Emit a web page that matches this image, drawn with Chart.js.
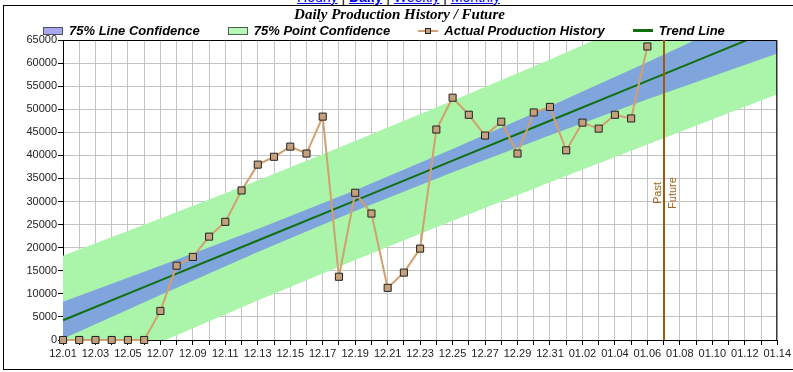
<!DOCTYPE html>
<html>
<head>
<meta charset="utf-8">
<title>Daily Production History / Future</title>
<script src="https://cdn.jsdelivr.net/npm/chart.js@4.4.1/dist/chart.umd.min.js"></script>
<style>
    html, body { margin: 0; padding: 0; background: #fff; }
    #wrap { position: relative; width: 793px; height: 372px; overflow: hidden; font-family: 'Liberation Sans', Arial, sans-serif; }
    #frame { position: absolute; left: 3px; top: 5px; width: 800px; height: 363px; border: 1px solid #000; border-right: none; }
    #links { position: absolute; top: -11px; left: 0; width: 797px; text-align: center; font-size: 14px; line-height: 16px; }
    #links a { color: #0000ee; text-decoration: underline; }
    #links b { font-weight: bold; }
    #chart { position: absolute; left: 0; top: 0; }
    #legend { position: absolute; left: 43px; top: 23px; height: 15px; display: flex; align-items: center; gap: 28px;
              font: italic bold 13px 'Liberation Sans', Arial, sans-serif; color: #000; white-space: nowrap; }
    .item { display: flex; align-items: center; gap: 6px; }
    .sw { position: relative; width: 20px; height: 8px; box-sizing: border-box; }
    .sw.box { border: 1px solid #505060; }
    .sw .ln { position: absolute; left: 0; right: 0; top: 50%; }
    .sw .mk { position: absolute; left: 7px; top: 1px; width: 6px; height: 6px; box-sizing: border-box; border: 1px solid #222; }
</style>
</head>
<body>
<div id="wrap">
    <div id="frame"></div>
    <div id="links"><a href="#">Hourly</a> | <a href="#"><b>Daily</b></a> | <a href="#">Weekly</a> | <a href="#">Monthly</a></div>
    <canvas id="chart" width="793" height="372"></canvas>
    <div id="legend"></div>
</div>
<script>
// ===== DATA =====
const DATES = ['12.01','12.02','12.03','12.04','12.05','12.06','12.07','12.08','12.09','12.10',
               '12.11','12.12','12.13','12.14','12.15','12.16','12.17','12.18','12.19','12.20',
               '12.21','12.22','12.23','12.24','12.25','12.26','12.27','12.28','12.29','12.30','12.31',
               '01.01','01.02','01.03','01.04','01.05','01.06','01.07','01.08','01.09','01.10',
               '01.11','01.12','01.13','01.14'];

// actual production, 12.01 .. 01.06
const ACTUAL = [0, 0, 0, 0, 0, 0, 6300, 16100, 18000, 22400,
                25600, 32400, 38000, 39700, 41900, 40400, 48400, 13700, 31900, 27400,
                11300, 14600, 19800, 45600, 52500, 48800, 44300, 47300, 40400, 49300, 50500,
                41100, 47100, 45800, 48800, 48000, 63600];

// trend line and confidence bands, read at a few dates
const BAND_DATES   = ['12.01', '12.07', '12.13', '12.19', '12.25', '12.31', '01.06', '01.14'];
const TREND        = [4270, 12920, 21560, 30210, 38850, 47500, 56150, 67670];
const LINE_CONF_HI = [8280, 16080, 24070, 32460, 41360, 50660, 60160, 73270];
const LINE_CONF_LO = [260, 9760, 19050, 27960, 36340, 44340, 52140, 62070];
const POINT_CONF_HI = [18270, 26320, 34560, 43110, 51850, 60800, 69950, 82070];
const POINT_CONF_LO = [-9730, -480, 8560, 17310, 25850, 34200, 42350, 53270];

const Y_MIN = 0, Y_MAX = 65000, Y_STEP = 5000;
const SPLIT_DATE = '01.07';
const NAMES = ['75% Line Confidence', '75% Point Confidence', 'Actual Production History', 'Trend Line'];

// ===== COLOURS =====
const C_LINE_CONF = '#80a4dc';
const C_POINT_CONF = '#aaf5aa';
const C_ACTUAL = '#d2a06e';
const C_MARKER = '#c4a07c';
const C_TREND = '#107010';
const C_SPLIT = '#9b5a0c';

const atBands = (vals) => BAND_DATES.map((d, i) => ({ x: d, y: vals[i] }));

// plot frame + past/future marker
const plotExtras = {
    id: 'plotExtras',
    afterDatasetsDraw(chart) {
        const { ctx, chartArea: a, scales: { x } } = chart;
        ctx.save();
        // top & right border
        ctx.strokeStyle = '#000';
        ctx.lineWidth = 1;
        ctx.beginPath();
        ctx.moveTo(a.left, a.top + 0.5);
        ctx.lineTo(a.right - 0.5, a.top + 0.5);
        ctx.lineTo(a.right - 0.5, a.bottom);
        ctx.stroke();

        // past / future divider
        const px = Math.round(x.getPixelForValue(DATES.indexOf(SPLIT_DATE)));
        ctx.strokeStyle = C_SPLIT;
        ctx.lineWidth = 2;
        ctx.beginPath();
        ctx.moveTo(px, a.top);
        ctx.lineTo(px, a.bottom);
        ctx.stroke();

        const cy = a.top + 153;
        ctx.translate(px, cy);
        ctx.rotate(-Math.PI / 2);
        ctx.fillStyle = '#a0641c';
        ctx.font = "11px 'Liberation Sans', Arial, sans-serif";
        ctx.textAlign = 'center';
        ctx.textBaseline = 'alphabetic';
        ctx.fillText('Past', 0, -3);
        ctx.fillText('Future', 0, 12);
        ctx.restore();
    }
};

function buildLegend() {
    const el = document.getElementById('legend');
    const swatches = [
        `<span class="sw box" style="background:#a8a8f0"></span>`,
        `<span class="sw box" style="background:#b6f8b6;border-color:#506050"></span>`,
        `<span class="sw"><span class="ln" style="height:2px;margin-top:-1px;background:${C_ACTUAL}"></span><span class="mk" style="background:${C_MARKER}"></span></span>`,
        `<span class="sw"><span class="ln" style="height:3px;margin-top:-1.5px;background:${C_TREND}"></span></span>`
    ];
    el.innerHTML = NAMES.map((n, i) => `<span class="item">${swatches[i]}<span>${n}</span></span>`).join('');
}

function initChart() {
    const ctx = document.getElementById('chart').getContext('2d');
    Chart.defaults.font.family = "'Liberation Sans', Arial, sans-serif";

    new Chart(ctx, {
        type: 'line',
        data: {
            labels: DATES,
            datasets: [
                { label: NAMES[1], data: atBands(POINT_CONF_HI), borderWidth: 0, pointRadius: 0,
                  backgroundColor: C_POINT_CONF, fill: '+1', order: 3 },
                { label: NAMES[1] + ' low', data: atBands(POINT_CONF_LO), borderWidth: 0, pointRadius: 0,
                  fill: false, order: 3 },
                { label: NAMES[0], data: atBands(LINE_CONF_HI), borderWidth: 0, pointRadius: 0,
                  backgroundColor: C_LINE_CONF, fill: '+1', order: 2 },
                { label: NAMES[0] + ' low', data: atBands(LINE_CONF_LO), borderWidth: 0, pointRadius: 0,
                  fill: false, order: 2 },
                { label: NAMES[3], data: atBands(TREND), borderColor: C_TREND, borderWidth: 2,
                  pointRadius: 0, fill: false, order: 1 },
                { label: NAMES[2], data: ACTUAL, borderColor: C_ACTUAL, borderWidth: 2,
                  pointStyle: 'rect', pointRadius: 5, pointBackgroundColor: C_MARKER,
                  pointBorderColor: '#222', pointBorderWidth: 1, fill: false, clip: false, order: 0 }
            ]
        },
        options: {
            responsive: false,
            animation: false,
            events: [],
            layout: { padding: { top: 6, left: 20, right: 14, bottom: 0 } },
            plugins: {
                legend: { display: false },
                tooltip: { enabled: false },
                title: {
                    display: true,
                    text: 'Daily Production History / Future',
                    color: '#000',
                    font: { family: "'Liberation Serif', 'Times New Roman', serif", size: 15, weight: 'bold', style: 'italic' },
                    padding: { top: 0, bottom: 16 }
                }
            },
            scales: {
                x: {
                    type: 'category',
                    offset: false,
                    afterFit: (s) => { s.height = 32; },
                    grid: { color: '#c4c4c4', tickColor: '#000', tickLength: 5, drawTicks: true },
                    border: { display: true, color: '#000', width: 1 },
                    ticks: {
                        autoSkip: false, maxRotation: 0, minRotation: 0, padding: 2,
                        color: '#222', font: { size: 11 },
                        callback: (v, i) => (i % 2 === 0 ? DATES[i] : '')
                    }
                },
                y: {
                    min: Y_MIN, max: Y_MAX,
                    afterFit: (s) => { s.width = 43; },
                    grid: { color: '#c4c4c4', tickColor: '#000', tickLength: 5 },
                    border: { display: true, color: '#000', width: 1 },
                    ticks: {
                        stepSize: Y_STEP, padding: 1, color: '#222', font: { size: 11 },
                        callback: (v) => String(v)
                    }
                }
            }
        },
        plugins: [plotExtras]
    });
}

buildLegend();
initChart();
</script>
</body>
</html>
